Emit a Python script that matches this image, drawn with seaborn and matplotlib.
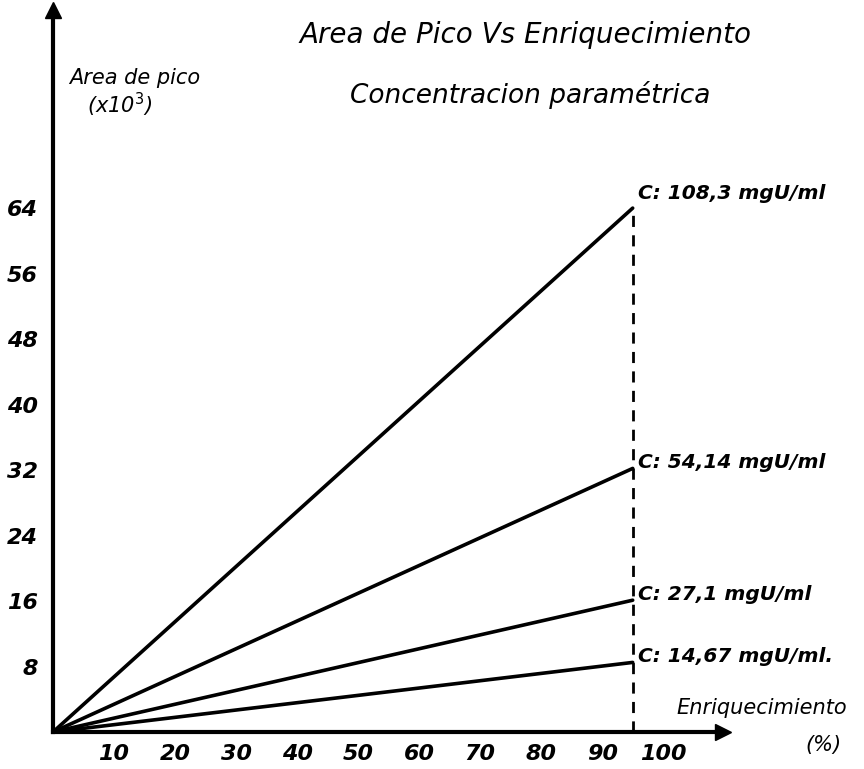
import matplotlib
matplotlib.use("Agg")
import matplotlib.pyplot as plt
import seaborn as sns
import pandas as pd

# ---- data ----
enriquecimiento = [0, 95]
area_c1 = [0, 64]
area_c2 = [0, 32.2]
area_c3 = [0, 16.1]
area_c4 = [0, 8.5]
labels_c = ["C: 108,3 mgU/ml", "C: 54,14 mgU/ml", "C: 27,1 mgU/ml", "C: 14,67 mgU/ml."]
x_ticks = [10, 20, 30, 40, 50, 60, 70, 80, 90, 100]
y_ticks = [8, 16, 24, 32, 40, 48, 56, 64]

sns.set_style("white")
plt.rcParams['font.family'] = ['DejaVu Sans']
plt.rcParams['text.color'] = 'black'
plt.rcParams['xtick.color'] = 'black'
plt.rcParams['ytick.color'] = 'black'

rows = []
for lab, vals in zip(labels_c, [area_c1, area_c2, area_c3, area_c4]):
    for x, y in zip(enriquecimiento, vals):
        rows.append({"enr": x, "area": y, "conc": lab})
df = pd.DataFrame(rows)

fig = plt.figure(figsize=(8.64, 7.69), dpi=100)
ax = fig.add_axes([53/864, 37/769, 670/864, 722/769])

sns.lineplot(data=df, x="enr", y="area", hue="conc", palette=["black"]*4,
             linewidth=2.6, legend=False, ax=ax)

ax.set_xlim(0, 109.8)
ax.set_ylim(0, 88.2)

# dashed vertical line
ax.vlines(enriquecimiento[1], 0, area_c1[1], colors="black", linestyles=(0, (4, 3)), linewidth=2)

# spines
for s in ["top", "right"]:
    ax.spines[s].set_visible(False)
for s in ["left", "bottom"]:
    ax.spines[s].set_linewidth(3)
    ax.spines[s].set_color("black")
# arrows
ax.plot([1], [0], marker=">", color="black", markersize=12, transform=ax.transAxes, clip_on=False)
ax.plot([0], [1], marker="^", color="black", markersize=12, transform=ax.transAxes, clip_on=False)

tfont = dict(fontstyle="italic", fontweight="bold", color="black")
ax.set_xticks(x_ticks)
ax.set_xticklabels([str(v) for v in x_ticks], fontsize=16, **tfont)
ax.set_yticks(y_ticks)
ax.set_yticklabels([str(v) for v in y_ticks], fontsize=16, **tfont)
ax.tick_params(axis="both", length=0)
ax.tick_params(axis="x", pad=9)
ax.tick_params(axis="y", pad=11)
ax.set_xlabel("")
ax.set_ylabel("")

# line end labels
for lab, vals in zip(labels_c, [area_c1, area_c2, area_c3, area_c4]):
    ax.annotate(lab, xy=(enriquecimiento[1], vals[1]), xytext=(4, 4), textcoords="offset points",
                ha="left", va="bottom" if vals is area_c1 else "center",
                fontsize=14.5, clip_on=False, annotation_clip=False, **tfont)

# titles and axis labels
fig.text(525/864, 1 - 35/769, "Area de Pico Vs Enriquecimiento", ha="center", va="center",
         fontsize=20, fontstyle="italic", color="black")
fig.text(530/864, 1 - 95/769, "Concentracion paramétrica", ha="center", va="center",
         fontsize=19, fontstyle="italic", color="black")
fig.text(135/864, 1 - 78/769, "Area de pico", ha="center", va="center", fontsize=15,
         fontstyle="italic", color="black")
fig.text(120/864, 1 - 105/769, "(x10$^3$)", ha="center", va="center", fontsize=15,
         fontstyle="italic", color="black")
fig.text(762/864, 1 - 708/769, "Enriquecimiento", ha="center", va="center", fontsize=15,
         fontstyle="italic", color="black")
fig.text(823/864, 1 - 745/769, "(%)", ha="center", va="center", fontsize=15,
         fontstyle="italic", color="black")

fig.savefig("out.png", dpi=100, facecolor="white")
